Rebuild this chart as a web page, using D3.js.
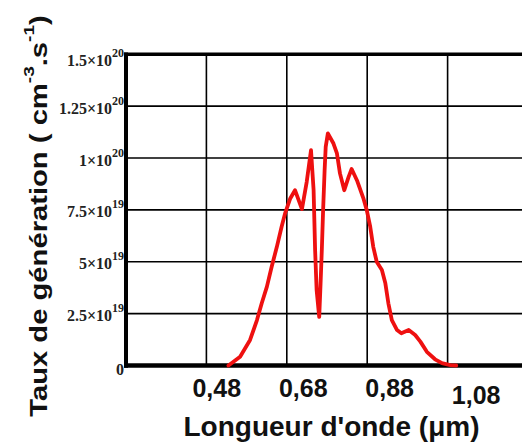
<!DOCTYPE html>
<html>
<head>
<meta charset="utf-8">
<script src="https://cdn.jsdelivr.net/npm/d3@7"></script>
<style>
  html, body { margin: 0; padding: 0; background: #fff; }
  svg { display: block; }
</style>
</head>
<body>
<svg id="chart" width="522" height="442"></svg>
<script>
// ---- data (wavelength in µm, generation rate in cm^-3.s^-1) ----
const wavelength = [0.507, 0.534, 0.557, 0.573, 0.584, 0.596, 0.607, 0.619, 0.630, 0.638,
  0.650, 0.661, 0.677, 0.688, 0.698, 0.704, 0.7075, 0.711, 0.717, 0.720,
  0.723, 0.726, 0.7295, 0.732, 0.737, 0.750, 0.758, 0.765, 0.775, 0.785,
  0.792, 0.805, 0.819, 0.827, 0.835, 0.842, 0.850, 0.862, 0.870, 0.877,
  0.885, 0.897, 0.907, 0.924, 0.939, 0.951, 0.966, 0.985, 1.001, 1.020, 1.034];
const generation = [0, 0.42e19, 1.23e19, 2.19e19, 3.00e19, 3.80e19, 4.76e19, 5.72e19, 6.69e19, 7.33e19,
  8.05e19, 8.45e19, 7.54e19, 8.84e19, 10.38e19, 8.45e19, 5.56e19, 3.64e19, 2.34e19, 3.88e19,
  5.56e19, 7.49e19, 9.42e19, 10.54e19, 11.19e19, 10.70e19, 10.22e19, 9.26e19, 8.45e19, 9.09e19,
  9.47e19, 8.89e19, 8.07e19, 7.49e19, 6.69e19, 5.72e19, 5.00e19, 4.60e19, 3.96e19, 3.00e19,
  2.19e19, 1.71e19, 1.55e19, 1.71e19, 1.47e19, 1.15e19, 0.66e19, 0.30e19, 0.11e19, 0.02e19, 0];

const xTickValues = [0.48, 0.68, 0.88, 1.08];
const xTickLabels = ["0,48", "0,68", "0,88", "1,08"];
const xGridValues = [0.456, 0.642, 0.828, 1.014, 1.20];
const yTickValues = [0, 2.5e19, 5e19, 7.5e19, 1e20, 1.25e20, 1.5e20];
const yTickMantissa = ["0", "2.5", "5", "7.5", "1", "1.25", "1.5"];
const yTickExponent = ["", "19", "19", "19", "20", "20", "20"];
const xTitle = "Longueur d'onde (\u03BCm)";
const yTitleParts = ["Taux de génération ( cm", "-3", ".s", "-1", ")"];

// ---- layout ----
const svg = d3.select("#chart");
const x = d3.scaleLinear().domain([0.27, 1.20]).range([126, 528]);
const y = d3.scaleLinear().domain([0, 1.5e20]).range([365.5, 54.3]);

// grid
const grid = svg.append("g");
grid.selectAll("line.h").data(yTickValues.slice(1, -1)).join("line")
  .attr("x1", x(0.27)).attr("x2", x(1.20))
  .attr("y1", d => y(d)).attr("y2", d => y(d))
  .attr("stroke", "#000").attr("stroke-width", 1.6);
grid.selectAll("line.v").data(xGridValues).join("line")
  .attr("x1", d => x(d)).attr("x2", d => x(d))
  .attr("y1", y(1.5e20)).attr("y2", y(0))
  .attr("stroke", "#000").attr("stroke-width", 1.6);

// frame: top border, left axis, bottom axis
svg.append("line").attr("x1", x(0.27) - 2).attr("x2", x(1.20))
  .attr("y1", y(1.5e20)).attr("y2", y(1.5e20))
  .attr("stroke", "#000").attr("stroke-width", 3.5);
svg.append("line").attr("x1", x(0.27)).attr("x2", x(0.27))
  .attr("y1", y(1.5e20) - 1.7).attr("y2", y(0) + 2.2)
  .attr("stroke", "#000").attr("stroke-width", 4);
svg.append("line").attr("x1", x(0.27) - 2).attr("x2", x(1.20))
  .attr("y1", y(0)).attr("y2", y(0))
  .attr("stroke", "#000").attr("stroke-width", 4.5);

// curve
const line = d3.line().x(d => x(d[0])).y(d => y(d[1])).curve(d3.curveLinear);
svg.append("path")
  .datum(wavelength.map((w, i) => [w, generation[i]]))
  .attr("d", line)
  .attr("fill", "none")
  .attr("stroke", "#ee1010")
  .attr("stroke-width", 3.8)
  .attr("stroke-linejoin", "round")
  .attr("stroke-linecap", "round");

// y tick labels
const yLab = svg.append("g")
  .attr("font-family", "'Liberation Serif', 'Times New Roman', serif")
  .attr("font-weight", "bold")
  .attr("fill", "#222");
yTickValues.forEach((v, i) => {
  const t = yLab.append("text")
    .attr("x", 124)
    .attr("y", y(v) + (i === yTickValues.length - 1 ? 12 : 7.5))
    .attr("text-anchor", "end")
    .attr("font-size", 16);
  if (yTickExponent[i]) {
    t.append("tspan").text(yTickMantissa[i] + "\u00D710");
    t.append("tspan").attr("font-size", 12).attr("dy", -9).text(yTickExponent[i]);
  } else {
    t.append("tspan").attr("dy", 2).text(yTickMantissa[i]);
  }
});

// x tick labels
svg.append("g").selectAll("text").data(xTickValues).join("text")
  .attr("x", d => x(d))
  .attr("y", (d, i) => i === xTickValues.length - 1 ? 404 : 396.5)
  .attr("text-anchor", "middle")
  .attr("font-family", "'Liberation Sans', Arial, sans-serif")
  .attr("font-weight", "bold")
  .attr("font-size", 25)
  .attr("fill", "#111")
  .text((d, i) => xTickLabels[i]);

// x title
svg.append("text")
  .attr("x", 331.5).attr("y", 436)
  .attr("text-anchor", "middle")
  .attr("font-family", "'Liberation Sans', Arial, sans-serif")
  .attr("font-weight", "bold")
  .attr("font-size", 28)
  .attr("fill", "#111")
  .text(xTitle);

// y title (rotated, stretched along its length)
const yt = svg.append("text")
  .attr("transform", "translate(46.5,216) rotate(-90) scale(1.27,1)")
  .attr("text-anchor", "middle")
  .attr("font-family", "'Liberation Sans', Arial, sans-serif")
  .attr("font-weight", "bold")
  .attr("font-size", 23)
  .attr("fill", "#111");
yt.append("tspan").text(yTitleParts[0]);
yt.append("tspan").attr("font-size", 15).attr("dy", -13).text(yTitleParts[1]);
yt.append("tspan").attr("dy", 13).text(yTitleParts[2]);
yt.append("tspan").attr("font-size", 15).attr("dy", -13).text(yTitleParts[3]);
yt.append("tspan").attr("dy", 13).text(yTitleParts[4]);
</script>
</body>
</html>
